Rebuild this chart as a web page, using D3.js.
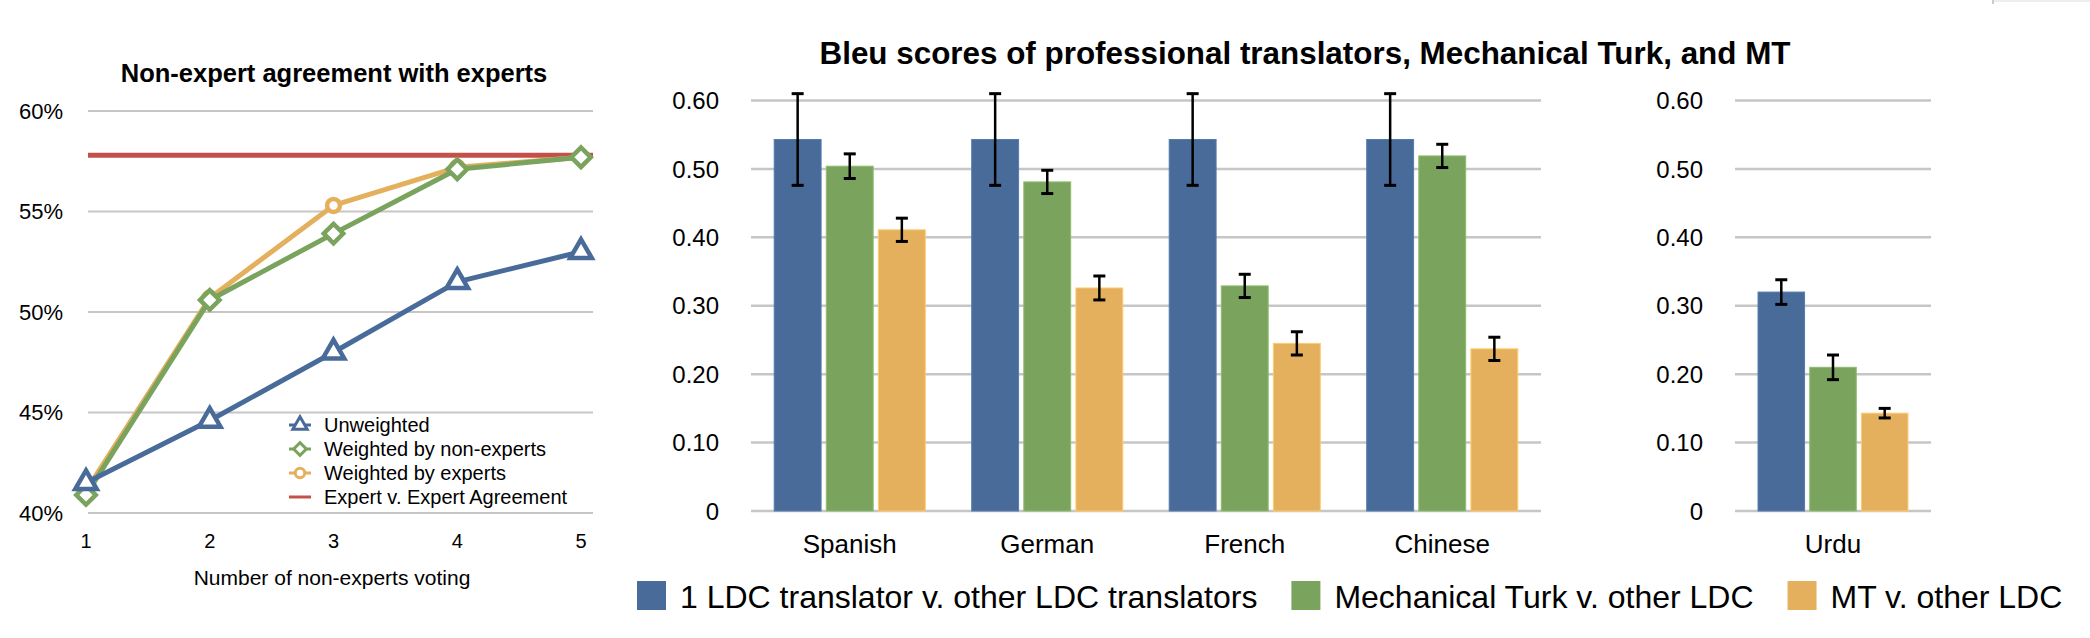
<!DOCTYPE html>
<html lang="en">
<head>
  <meta charset="UTF-8">
  <title>Bleu scores</title>
  <script src="https://d3js.org/d3.v7.min.js"></script>
  <style>
    body { margin: 0; background: #fff; }
    text { font-family: "Liberation Sans", Arial, sans-serif; fill: #000; }
  </style>
</head>
<body>
  <script>
    // left chart data (percent agreement)
    const voters = [1, 2, 3, 4, 5];
    const unweighted = [41.5, 44.6, 48.0, 51.5, 53.0];
    const byNonExperts = [40.9, 50.6, 53.9, 57.1, 57.7];
    const byExperts = [41.1, 50.7, 55.3, 57.2, 57.7];
    const expertAgreement = 57.8;
    const pctTicks = [40, 45, 50, 55, 60];

    // bar chart data (Bleu)
    const languages = ['Spanish', 'German', 'French', 'Chinese'];
    const urdu = ['Urdu'];
    const seriesNames = ['1 LDC translator v. other LDC translators', 'Mechanical Turk v. other LDC', 'MT v. other LDC'];
    // order: Spanish, German, French, Chinese, Urdu
    const ldcScores = [0.543, 0.543, 0.543, 0.543, 0.320];
    const ldcErr = [0.067, 0.067, 0.067, 0.067, 0.018];
    const turkScores = [0.504, 0.481, 0.329, 0.519, 0.210];
    const turkErr = [0.018, 0.017, 0.017, 0.017, 0.018];
    const mtScores = [0.411, 0.326, 0.245, 0.237, 0.143];
    const mtErr = [0.017, 0.0175, 0.017, 0.017, 0.007];
    const bleuTicks = [0, 0.1, 0.2, 0.3, 0.4, 0.5, 0.6];

    const blue = '#496b99', green = '#7aa35e', orange = '#e4b05e', red = '#c4504a';
    const grid = '#c6c6c6';

    const svg = d3.select('body').append('svg')
      .attr('width', 2090).attr('height', 638)

    // little mark in the top right corner
    svg.append('rect').attr('x', 1992).attr('y', 0).attr('width', 2).attr('height', 4).attr('fill', '#ccc')
    svg.append('rect').attr('x', 1994).attr('y', 0).attr('width', 96).attr('height', 2).attr('fill', '#eee')

    // ---------- left: line chart ----------
    const lx = d3.scaleLinear().domain([1, 5]).range([86, 581])
    const ly = d3.scaleLinear().domain([40, 60]).range([513, 111])

    svg.append('text').attr('x', 334).attr('y', 82)
      .attr('text-anchor', 'middle').attr('font-weight', 'bold').attr('font-size', 25.5)
      .text('Non-expert agreement with experts')

    svg.append('g').selectAll('line').data(pctTicks).join('line')
      .attr('x1', 88).attr('x2', 593)
      .attr('y1', d => ly(d)).attr('y2', d => ly(d))
      .attr('stroke', grid).attr('stroke-width', 2)

    svg.append('g').selectAll('text').data(pctTicks).join('text')
      .attr('x', 63).attr('y', d => ly(d)).attr('dy', '0.36em')
      .attr('text-anchor', 'end').attr('font-size', 22)
      .text(d => d + '%')

    svg.append('g').selectAll('text').data(voters).join('text')
      .attr('x', d => lx(d)).attr('y', 548)
      .attr('text-anchor', 'middle').attr('font-size', 20)
      .text(d => d)

    svg.append('text').attr('x', 332).attr('y', 585)
      .attr('text-anchor', 'middle').attr('font-size', 21)
      .text('Number of non-experts voting')

    svg.append('line')
      .attr('x1', 88).attr('x2', 593)
      .attr('y1', ly(expertAgreement)).attr('y2', ly(expertAgreement))
      .attr('stroke', red).attr('stroke-width', 5)

    const lineSeries = [
      { name: 'Weighted by experts', values: byExperts, color: orange, symbol: d3.symbolCircle, size: 130, rot: 0 },
      { name: 'Weighted by non-experts', values: byNonExperts, color: green, symbol: d3.symbolSquare, size: 190, rot: 45 },
      { name: 'Unweighted', values: unweighted, color: blue, symbol: d3.symbolTriangle, size: 200, rot: 0 }
    ]
    const line = d3.line().x((d, i) => lx(voters[i])).y(d => ly(d))

    lineSeries.forEach(s => {
      svg.append('path').datum(s.values)
        .attr('d', line).attr('fill', 'none')
        .attr('stroke', s.color).attr('stroke-width', 5)
        .attr('stroke-linejoin', 'round')
      svg.append('g').selectAll('path').data(s.values).join('path')
        .attr('d', d3.symbol().type(s.symbol).size(s.size))
        .attr('transform', (d, i) => `translate(${lx(voters[i])},${ly(d)}) rotate(${s.rot})`)
        .attr('fill', '#fff').attr('stroke', s.color).attr('stroke-width', 4.5)
    })

    // legend for the line chart
    const legendRows = [
      { name: 'Unweighted', color: blue, symbol: d3.symbolTriangle, size: 90, rot: 0 },
      { name: 'Weighted by non-experts', color: green, symbol: d3.symbolSquare, size: 80, rot: 45 },
      { name: 'Weighted by experts', color: orange, symbol: d3.symbolCircle, size: 70, rot: 0 },
      { name: 'Expert v. Expert Agreement', color: red, symbol: null }
    ]
    const lg = svg.append('g').selectAll('g').data(legendRows).join('g')
      .attr('transform', (d, i) => `translate(300,${425 + i * 24})`)
    lg.append('line').attr('x1', -11).attr('x2', 11)
      .attr('stroke', d => d.color).attr('stroke-width', 3)
    lg.filter(d => d.symbol).append('path')
      .attr('d', d => d3.symbol().type(d.symbol).size(d.size)())
      .attr('transform', d => `rotate(${d.rot})`)
      .attr('fill', '#fff').attr('stroke', d => d.color).attr('stroke-width', 3)
    lg.append('text').attr('x', 24).attr('dy', '0.36em')
      .attr('font-size', 20).text(d => d.name)

    // ---------- bar charts ----------
    svg.append('text').attr('x', 1305).attr('y', 64)
      .attr('text-anchor', 'middle').attr('font-weight', 'bold').attr('font-size', 31.4)
      .text('Bleu scores of professional translators, Mechanical Turk, and MT')

    const by = d3.scaleLinear().domain([0, 0.6]).range([511, 100.5])
    const seriesData = [
      { scores: ldcScores, err: ldcErr, color: blue },
      { scores: turkScores, err: turkErr, color: green },
      { scores: mtScores, err: mtErr, color: orange }
    ]
    const allCats = languages.concat(urdu)

    function barPanel(cats, x0, x1, labelX) {
      const g = svg.append('g')
      const bx = d3.scaleBand().domain(cats).range([x0, x1]).paddingInner(0.235).paddingOuter(0.1175)
      const sx = d3.scaleBand().domain(d3.range(3)).range([0, bx.bandwidth()]).paddingInner(0.1)

      g.selectAll('line.grid').data(bleuTicks).join('line').attr('class', 'grid')
        .attr('x1', x0).attr('x2', x1)
        .attr('y1', d => by(d)).attr('y2', d => by(d))
        .attr('stroke', grid).attr('stroke-width', 2.5)

      g.selectAll('text.tick').data(bleuTicks).join('text').attr('class', 'tick')
        .attr('x', labelX).attr('y', d => by(d)).attr('dy', '0.36em')
        .attr('text-anchor', 'end').attr('font-size', 24)
        .text(d => d === 0 ? '0' : d3.format('.2f')(d))

      cats.forEach(c => {
        const ci = allCats.indexOf(c)
        seriesData.forEach((s, si) => {
          const x = bx(c) + sx(si)
          g.append('rect')
            .attr('x', x).attr('width', sx.bandwidth())
            .attr('y', by(s.scores[ci])).attr('height', by(0) - by(s.scores[ci]))
            .attr('fill', s.color)
            .attr('stroke', d3.color(s.color).brighter(0.4)).attr('stroke-width', 1)
          const cx = x + sx.bandwidth() / 2
          const top = by(s.scores[ci] + s.err[ci]), bot = by(s.scores[ci] - s.err[ci])
          g.append('line').attr('x1', cx).attr('x2', cx).attr('y1', top).attr('y2', bot)
            .attr('stroke', '#000').attr('stroke-width', 2.5)
          ;[top, bot].forEach(yy => {
            g.append('line').attr('x1', cx - 6).attr('x2', cx + 6).attr('y1', yy).attr('y2', yy)
              .attr('stroke', '#000').attr('stroke-width', 3)
          })
        })
      })

      g.selectAll('text.cat').data(cats).join('text').attr('class', 'cat')
        .attr('x', d => bx(d) + bx.bandwidth() / 2).attr('y', 553)
        .attr('text-anchor', 'middle').attr('font-size', 26)
        .text(d => d)
    }

    barPanel(languages, 751, 1541, 719)
    barPanel(urdu, 1735, 1931, 1703)

    // legend under the bar charts, laid out left to right
    const bl = svg.append('g').selectAll('g').data(seriesNames).join('g')
    bl.append('rect').attr('x', 0).attr('y', -15).attr('width', 29).attr('height', 29)
      .attr('fill', (d, i) => seriesData[i].color)
    bl.append('text').attr('x', 43).attr('dy', '0.36em')
      .attr('font-size', 32).text(d => d)
    let lxPos = 637
    bl.each(function () {
      d3.select(this).attr('transform', `translate(${lxPos},596)`)
      lxPos += 43 + d3.select(this).select('text').node().getComputedTextLength() + 34
    })
  </script>
</body>
</html>
